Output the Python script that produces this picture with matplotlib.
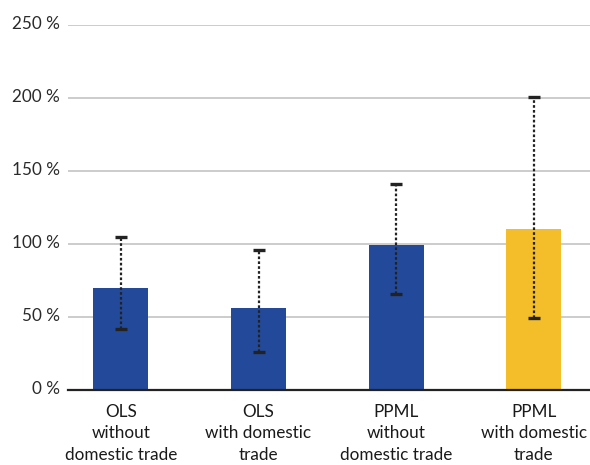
import matplotlib
matplotlib.use("Agg")
import matplotlib.pyplot as plt
import matplotlib.transforms as mtransforms
import numpy as np

categories = ["OLS\nwithout\ndomestic trade", "OLS\nwith domestic\ntrade",
              "PPML\nwithout\ndomestic trade", "PPML\nwith domestic\ntrade"]
values = [70, 56, 99, 110]
err_low = [42, 26, 65.5, 49]
err_high = [105, 96, 141, 201]
colors = ["#234A9A", "#234A9A", "#234A9A", "#F4BE2A"]
yticks = [0, 50, 100, 150, 200, 250]
ytick_labels = ["0 %", "50 %", "100 %", "150 %", "200 %", "250 %"]

plt.rcParams['font.family'] = ['Lato', 'DejaVu Sans']

fig = plt.figure(figsize=(5.9, 4.65), dpi=100)
ax = fig.add_axes([68/590, 1-390/465, 1-68/590, (390-25)/465])

x = np.arange(len(categories))
ax.bar(x, values, width=0.4, color=colors, zorder=3)

v = np.array(values)
lo = v - np.array(err_low)
hi = np.array(err_high) - v
eb = ax.errorbar(x, v, yerr=[lo, hi], fmt='none', ecolor="#222222",
                 elinewidth=1.6, capsize=4.3, capthick=2.4, zorder=4)
for lc in eb[2]:
    lc.set_linestyle((0, (1.2, 1.0)))

ax.set_xlim(-0.385, 3.41)
ax.set_ylim(0, 250)
ax.set_yticks(yticks)
ax.set_yticklabels(ytick_labels, fontsize=12.3, color="#2a2a2a")
ax.set_xticks(x)
ax.set_xticklabels(categories, fontsize=12.3, color="#1a1a1a", linespacing=1.42)
ax.tick_params(axis='y', length=0, pad=6)
ax.tick_params(axis='x', length=0, pad=10)
offset = mtransforms.ScaledTranslation(0, 3/100, fig.dpi_scale_trans)
for lab in ax.get_yticklabels():
    lab.set_transform(lab.get_transform() + offset)
ax.yaxis.grid(True, color="#cccccc", linewidth=1.4, zorder=0)
ax.set_axisbelow(True)
for s in ['top', 'right', 'left']:
    ax.spines[s].set_visible(False)
ax.spines['bottom'].set_color("#222222")
ax.spines['bottom'].set_linewidth(1.6)
ax.spines['bottom'].set_zorder(5)

fig.savefig("out.png", dpi=100)
